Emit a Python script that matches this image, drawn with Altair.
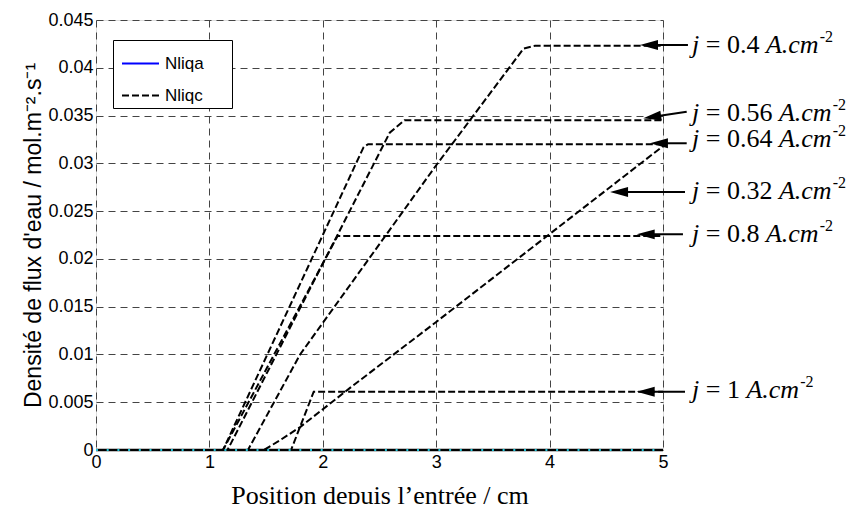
import math
import altair as alt
import pandas as pd

# ---------------- data ----------------
curve_names = ["j=0.4", "j=0.56", "j=0.64", "j=0.32", "j=0.8", "j=1"]
x_j04 = [0, 1.34, 1.80, 3.00, 3.77, 3.87, 5.0]
y_j04 = [0, 0, 0.0100, 0.0298, 0.0420, 0.0423, 0.0423]
x_j056 = [0, 1.16, 2.59, 2.72, 5.0]
y_j056 = [0, 0, 0.0332, 0.0345, 0.0345]
x_j064 = [0, 1.12, 2.36, 2.40, 5.0]
y_j064 = [0, 0, 0.0317, 0.0320, 0.0320]
x_j032 = [0, 1.48, 1.62, 1.80, 2.24, 3.0, 4.0, 5.0]
y_j032 = [0, 0, 0.0010, 0.0024, 0.0065, 0.0134, 0.0226, 0.0318]
x_j08 = [0, 1.12, 2.13, 5.0]
y_j08 = [0, 0, 0.0224, 0.0224]
x_j1 = [0, 1.72, 1.92, 5.0]
y_j1 = [0, 0, 0.0061, 0.0061]

x_nliqa = [0, 5.0]
y_nliqa = [0, 0]
x_base = [0, 5.0]   # other zero-valued series lying on the x axis
y_base = [0, 0]

series_names = ["Nliqa", "Nliqc"]
x_ticks = [0, 1, 2, 3, 4, 5]
y_ticks = [0, 0.005, 0.01, 0.015, 0.02, 0.025, 0.03, 0.035, 0.04, 0.045]

label_numbers = ["0.4", "0.56", "0.64", "0.32", "0.8", "1"]
label_baseline_y = [0.04155, 0.03443, 0.03171, 0.02627, 0.02177, 0.00544]
arrow_tip_x = [4.797, 4.826, 4.885, 4.533, 4.768, 4.768]
arrow_tip_y = [0.04238, 0.03471, 0.03210, 0.02700, 0.02257, 0.00610]
arrow_tail_x = [5.220, 5.209, 5.209, 5.194, 5.176, 5.194]
arrow_tail_y = [0.04238, 0.03540, 0.03210, 0.02700, 0.02257, 0.00610]
label_x = 5.256

# ---------------- layout ----------------
W, H = 567, 430
PX_X = W / 5.0
PX_Y = H / 0.045
FS = 26  # annotation font size
SERIF = "Liberation Serif"
SANS = "Liberation Sans"

# ---------------- tables ----------------
curves = list(zip(curve_names,
                  [x_j04, x_j056, x_j064, x_j032, x_j08, x_j1],
                  [y_j04, y_j056, y_j064, y_j032, y_j08, y_j1]))
rows = []
for name, xs, ys in curves:
    for i, (xv, yv) in enumerate(zip(xs, ys)):
        rows.append({"x": xv, "y": yv, "curve": name, "i": i, "series": "Nliqc"})
nliqc_df = pd.DataFrame(rows)
nliqa_df = pd.DataFrame({"x": x_nliqa, "y": y_nliqa, "series": "Nliqa"})
base_df = pd.DataFrame({"x": x_base, "y": y_base})

# arrows
arrow_rows = []
for tx, ty, ax, ay in zip(arrow_tip_x, arrow_tip_y, arrow_tail_x, arrow_tail_y):
    dxp = (ax - tx) * PX_X
    dyp = -(ay - ty) * PX_Y
    L = math.hypot(dxp, dyp)
    ang = math.degrees(math.atan2(dyp, dxp)) % 360
    sx = tx + (dxp / L * 10) / PX_X
    sy = ty - (dyp / L * 10) / PX_Y
    arrow_rows.append({"x": sx, "y": sy, "x2": ax, "y2": ay,
                       "tx": tx, "ty": ty, "ang": ang})
arrow_df = pd.DataFrame(arrow_rows)

# label parts (Times metrics for offsets)
REG = {"0": .5, "1": .5, "2": .5, "3": .5, "4": .5, "5": .5, "6": .5,
       "7": .5, "8": .5, "9": .5, ".": .25, " ": .25, "=": .564}
ITW = .611 + .25 + .444 + .722  # "A.cm" italic


def w(s):
    return sum(REG.get(c, .5) for c in s)


ital, reg, sup = [], [], []
for num, yb in zip(label_numbers, label_baseline_y):
    x0 = label_x
    ital.append({"x": x0, "y": yb, "t": "j"})
    xe = x0 + (0.278 + 0.25) * FS / PX_X
    eq = "= " + num
    reg.append({"x": xe, "y": yb, "t": eq})
    xa = xe + (w(eq) + 0.25) * FS / PX_X
    ital.append({"x": xa, "y": yb, "t": "A.cm"})
    xs_ = xa + (ITW + 0.04) * FS / PX_X
    sup.append({"x": xs_, "y": yb, "t": "-2"})
ital_df = pd.DataFrame(ital)
reg_df = pd.DataFrame(reg)
sup_df = pd.DataFrame(sup)

# ---------------- encodings ----------------
xscale = alt.Scale(domain=[0, 5], nice=False, zero=False)
yscale = alt.Scale(domain=[0, 0.045], nice=False)
xaxis = alt.Axis(values=x_ticks, title="Position depuis l\u2019entr\u00e9e / cm",
                 titleFont=SERIF, titleFontSize=26, titleFontWeight="normal",
                 titleColor="black", titleBaseline="alphabetic", titleY=53,
                 labelFont=SANS, labelFontSize=18, labelColor="black",
                 labelPadding=3, labelFlush=False, ticks=False, domain=False,
                 grid=True, gridDash=[7, 5], gridColor="#444444", gridWidth=1,
                 gridOpacity=1)
yaxis = alt.Axis(values=y_ticks, format=".3~f",
                 title="Densit\u00e9 de flux d'eau / mol.m\u207b\u00b2.s\u207b\u00b9",
                 titleFont=SANS, titleFontSize=23, titleFontWeight="normal",
                 titleColor="black", titleBaseline="alphabetic", titleAngle=-90,
                 titleX=-56, titleY=215, titleAlign="center",
                 labelFont=SANS, labelFontSize=18, labelColor="black",
                 labelPadding=3, labelFlush=False, ticks=False, domain=False,
                 grid=True, gridDash=[7, 5], gridColor="#444444", gridWidth=1,
                 gridOpacity=1)
X = alt.X("x:Q", scale=xscale, axis=xaxis)
Y = alt.Y("y:Q", scale=yscale, axis=yaxis)

legend = alt.Legend(title=None, orient="none", legendX=17, legendY=20,
                    strokeColor="black", fillColor="white", padding=4,
                    symbolType="stroke", symbolSize=1369, symbolStrokeWidth=2,
                    labelFont=SANS, labelFontSize=17, labelColor="black",
                    labelOffset=5, rowPadding=4, symbolOffset=4,
                    labelExpr="datum.label + '\u2800\u2800'")
color = alt.Color("series:N", scale=alt.Scale(domain=series_names,
                                              range=["#0000ff", "#000000"]),
                  legend=legend)
dash = alt.StrokeDash("series:N", scale=alt.Scale(domain=series_names,
                                                  range=[[1, 0], [7, 3]]),
                      legend=legend)

line_a = alt.Chart(nliqa_df).mark_line(strokeWidth=2).encode(
    x=X, y=Y, color=color, strokeDash=dash)

# one layer per Nliqc curve, each with its own dash phase
offsets = [0, 3, 6, 1.5, 4.5, 8]
curve_layers = []
for name, off in zip(curve_names, offsets):
    curve_layers.append(
        alt.Chart(nliqc_df[nliqc_df["curve"] == name]).mark_line(
            strokeWidth=2, strokeDashOffset=off).encode(
            x=X, y=Y, color=color, strokeDash=dash, order="i:Q"))

line_k = alt.Chart(base_df).mark_line(strokeWidth=2.5, color="black").encode(x=X, y=Y)
line_b = alt.Chart(base_df).mark_line(strokeWidth=2, color="#20c4d8",
                                      strokeDash=[2, 8.7]).encode(x=X, y=Y)

shaft = alt.Chart(arrow_df).mark_rule(color="black", strokeWidth=2,
                                      clip=False).encode(
    x=X, y=Y, x2="x2:Q", y2="y2:Q")
head = alt.Chart(arrow_df).mark_point(
    shape="M0,0 L2,-0.55 L2,0.55 Z", filled=True, color="black", opacity=1,
    size=324, clip=False, strokeWidth=0).encode(
    x=alt.X("tx:Q", scale=xscale, axis=xaxis),
    y=alt.Y("ty:Q", scale=yscale, axis=yaxis),
    angle=alt.Angle("ang:Q", scale=None))

t_ital = alt.Chart(ital_df).mark_text(
    font=SERIF, fontSize=FS, fontStyle="italic", align="left",
    baseline="alphabetic", color="black", clip=False).encode(x=X, y=Y, text="t:N")
t_reg = alt.Chart(reg_df).mark_text(
    font=SERIF, fontSize=FS, align="left", baseline="alphabetic",
    color="black", clip=False).encode(x=X, y=Y, text="t:N")
t_sup = alt.Chart(sup_df).mark_text(
    font=SERIF, fontSize=16, align="left", baseline="alphabetic", dy=-11,
    color="black", clip=False).encode(x=X, y=Y, text="t:N")

chart = alt.layer(line_a, *curve_layers, line_k, line_b, shaft, head,
                  t_ital, t_reg, t_sup).properties(
    width=W, height=H,
    autosize=alt.AutoSizeParams(type="none"),
    padding={"left": 88, "top": 12, "right": 183, "bottom": 54},
).configure_view(stroke="black", strokeWidth=1).configure(background="white")

chart.save("out.html", embed_options={"renderer": "svg", "actions": False})
